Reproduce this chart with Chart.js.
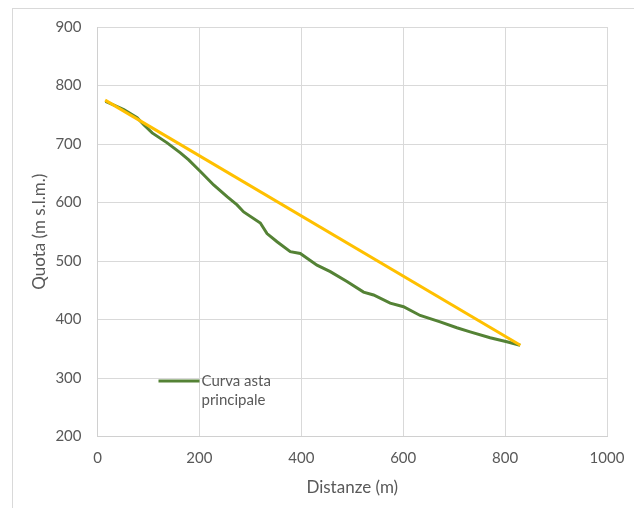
<!DOCTYPE html>
<html>
<head>
<meta charset="utf-8">
<script src="https://cdn.jsdelivr.net/npm/chart.js@4"></script>
<style>
  html, body { margin: 0; padding: 0; background: #fff; overflow: hidden; }
  #wrap { position: relative; width: 634px; height: 508px; }
  #frame { position: absolute; left: 12px; top: 8px; width: 650px; height: 520px; border: 1px solid #d9d9d9; }
  canvas { position: absolute; left: 0; top: 0; }
</style>
</head>
<body>
<div id="wrap">
  <div id="frame"></div>
  <canvas id="myChart" width="634" height="508"></canvas>
</div>
<script>
// profilo longitudinale dell'asta principale
const distanze = [15.7, 51.6, 77.8, 90.8, 107.3, 136.7, 162.7, 179, 202, 228, 254.3, 273.9, 286.9, 319.6,
    332.7, 352.4, 378.4, 398, 430.8, 456.9, 489.6, 522.2, 541.8, 574.5, 600.6, 633.3, 672.5, 705.3,
    731.4, 770.6, 803.3, 829.4];
const quote = [773, 759, 745, 733, 719, 702, 685, 673, 653, 630, 610, 596, 584, 565,
    547, 533, 516, 513, 493, 482, 465, 447, 442, 428, 422, 407, 396, 386,
    379, 369, 362, 356];

// congiungente estremi (pendenza media)
const rettaX = [15, 830];
const rettaY = [775, 356];

const xTicks = [0, 200, 400, 600, 800, 1000];
const yTicks = [200, 300, 400, 500, 600, 700, 800, 900];

const legendLabel = ['Curva asta', 'principale'];

const toPoints = (xs, ys) => xs.map((x, i) => ({ x: x, y: ys[i] }));

const fontFamily = 'Lato, "Liberation Sans", sans-serif';
const textColor = '#595959';

// legenda dentro l'area del grafico, come nel foglio Excel
const insideLegend = {
    id: 'insideLegend',
    afterDraw(chart) {
        const ctx = chart.ctx;
        const area = chart.chartArea;
        const x0 = area.left + 61;
        const y0 = area.top + 354;
        ctx.save();
        ctx.strokeStyle = '#548235';
        ctx.lineWidth = 3;
        ctx.beginPath();
        ctx.moveTo(x0, y0);
        ctx.lineTo(x0 + 41, y0);
        ctx.stroke();
        ctx.fillStyle = textColor;
        ctx.font = '15px ' + fontFamily;
        ctx.textBaseline = 'middle';
        ctx.fillText(legendLabel[0], x0 + 43, y0);
        ctx.fillText(legendLabel[1], x0 + 43, y0 + 19);
        ctx.restore();
    }
};

const ctx = document.getElementById('myChart');

var profileChart = new Chart(ctx, {
    type: 'scatter',
    data: {
        datasets: [{
            label: 'Curva asta principale',
            data: toPoints(distanze, quote),
            showLine: true,
            borderColor: '#548235',
            backgroundColor: '#548235',
            borderWidth: 3,
            pointRadius: 0,
            tension: 0,
            order: 2
        }, {
            label: 'Retta',
            data: toPoints(rettaX, rettaY),
            showLine: true,
            borderColor: '#FFC000',
            backgroundColor: '#FFC000',
            borderWidth: 3,
            pointRadius: 0,
            order: 1
        }]
    },
    options: {
        responsive: false,
        animation: false,
        layout: { padding: { left: 29, right: 27, top: 27, bottom: 10 } },
        plugins: {
            legend: { display: false },
            tooltip: { enabled: false }
        },
        scales: {
            x: {
                type: 'linear',
                min: 0,
                max: 1000,
                afterBuildTicks: (axis) => { axis.ticks = xTicks.map(v => ({ value: v })); },
                afterFit: (axis) => { axis.paddingRight = 0; },
                grid: { color: '#d9d9d9', drawTicks: false },
                border: { color: '#d0d0d0' },
                ticks: {
                    color: textColor, font: { family: fontFamily, size: 15 }, padding: 13, maxRotation: 0,
                    callback: (v) => String(v)
                },
                title: {
                    display: true,
                    text: 'Distanze (m)',
                    color: textColor,
                    font: { family: fontFamily, size: 17 },
                    padding: { top: -3, bottom: 0 }
                }
            },
            y: {
                type: 'linear',
                min: 200,
                max: 900,
                afterBuildTicks: (axis) => { axis.ticks = yTicks.map(v => ({ value: v })); },
                grid: { color: '#d9d9d9', drawTicks: false },
                border: { color: '#d0d0d0' },
                ticks: {
                    color: textColor, font: { family: fontFamily, size: 15 }, padding: 16,
                    callback: (v) => String(v)
                },
                title: {
                    display: true,
                    text: 'Quota (m s.l.m.)',
                    color: textColor,
                    font: { family: fontFamily, size: 17 },
                    padding: { top: 0, bottom: -10 }
                }
            }
        }
    },
    plugins: [insideLegend]
});
</script>
</body>
</html>
